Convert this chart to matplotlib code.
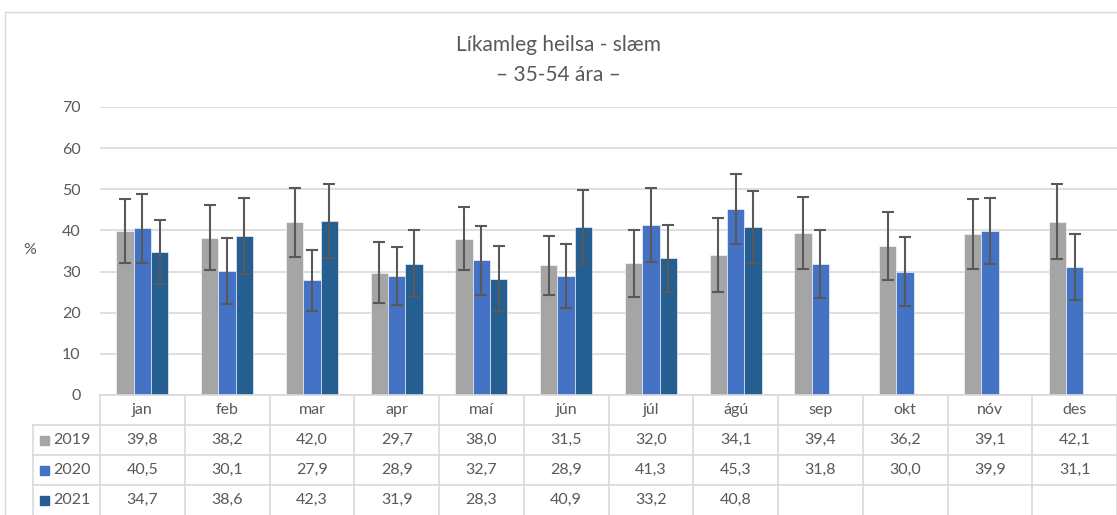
import matplotlib
matplotlib.use("Agg")
import matplotlib.pyplot as plt
from matplotlib.lines import Line2D
from matplotlib.patches import Rectangle
import matplotlib.transforms as mtransforms
import numpy as np

plt.rcParams['font.family'] = ['Lato', 'DejaVu Sans']

months = ["jan", "feb", "mar", "apr", "maí", "jún", "júl", "ágú", "sep", "okt", "nóv", "des"]
years = ["2019", "2020", "2021"]
v2019 = [39.8, 38.2, 42.0, 29.7, 38.0, 31.5, 32.0, 34.1, 39.4, 36.2, 39.1, 42.1]
v2020 = [40.5, 30.1, 27.9, 28.9, 32.7, 28.9, 41.3, 45.3, 31.8, 30.0, 39.9, 31.1]
v2021 = [34.7, 38.6, 42.3, 31.9, 28.3, 40.9, 33.2, 40.8]
e2019 = [7.8, 7.9, 8.4, 7.4, 7.6, 7.2, 8.1, 9.0, 8.8, 8.3, 8.5, 9.1]
e2020 = [8.4, 8.1, 7.4, 7.0, 8.3, 7.8, 9.0, 8.5, 8.2, 8.3, 8.1, 8.0]
e2021 = [7.8, 9.2, 8.9, 8.2, 8.0, 9.0, 8.2, 8.7]

colors = ["#A5A5A5", "#4472C4", "#255E91"]
txt = "#595959"
gridc = "#D9D9D9"

W, H = 1117, 515
fig = plt.figure(figsize=(W / 100, H / 100), dpi=100)

def fx(x):
    return x / W

def fy(y):
    return 1 - y / H

# outer chart border
fig.add_artist(Line2D([fx(5), fx(5)], [fy(12), fy(515)], color=gridc, lw=1, transform=fig.transFigure))
fig.add_artist(Line2D([fx(5), fx(1117)], [fy(12), fy(12)], color=gridc, lw=1, transform=fig.transFigure))

ax_l, ax_r, ax_t, ax_b = 100, 1117, 107, 395
ax = fig.add_axes([fx(ax_l), fy(ax_b), fx(ax_r - ax_l), (ax_b - ax_t) / H])

x = np.arange(len(months))
bw = 0.205
series = [(v2019, e2019), (v2020, e2020), (v2021, e2021)]
for i, (vals, errs) in enumerate(series):
    xs = x[:len(vals)] + (i - 1) * bw
    ax.bar(xs, vals, width=bw, color=colors[i], edgecolor="white", linewidth=0.4, zorder=2)
    ax.errorbar(xs, vals, yerr=errs, fmt="none", ecolor="#595959", elinewidth=1.5,
                capsize=4, capthick=1.5, zorder=3)

ax.set_xlim(-0.5, len(months) - 0.5)
ax.set_ylim(0, 70)
ax.set_yticks(range(0, 71, 10))
ax.yaxis.grid(True, color=gridc, lw=1.2, zorder=0)
ax.set_axisbelow(True)
for s in ax.spines.values():
    s.set_visible(False)
ax.tick_params(axis="y", length=0, pad=14, labelsize=11.5, labelcolor=txt)
ax.set_xticks([])

fig.text(fx(30), fy(250), "%", ha="center", va="center", fontsize=11.5, color=txt)
fig.text(0.5, fy(45), "Líkamleg heilsa - slæm", ha="center", va="center", fontsize=15, color=txt)
fig.text(0.5, fy(75), "– 35-54 ára –", ha="center", va="center", fontsize=15, color=txt)

# data table below the axes
trans = mtransforms.blended_transform_factory(ax.transData, fig.transFigure)
row_y = [395, 425, 455, 485, 515]
fig.add_artist(Line2D([fx(100), fx(1117)], [fy(395), fy(395)], color=gridc, lw=1.2, transform=fig.transFigure))
for yy in row_y[1:4]:
    fig.add_artist(Line2D([fx(33), fx(1117)], [fy(yy), fy(yy)], color=gridc, lw=1.2, transform=fig.transFigure))
fig.add_artist(Line2D([fx(33), fx(33)], [fy(425), fy(515)], color=gridc, lw=1.2, transform=fig.transFigure))
for k in range(len(months) + 1):
    fig.add_artist(Line2D([k - 0.5, k - 0.5], [fy(395), fy(515)], color=gridc, lw=1.2, transform=trans))

for k, m in enumerate(months):
    fig.text(k, fy(410), m, transform=trans, ha="center", va="center", fontsize=11.5, color=txt)

allvals = [v2019, v2020, v2021]
for r, (yr, vals) in enumerate(zip(years, allvals)):
    yc = (row_y[r + 1] + row_y[r + 2]) / 2
    fig.add_artist(Rectangle((fx(40), fy(yc + 4.5)), 9 / W, 9 / H, color=colors[r], transform=fig.transFigure))
    fig.text(fx(53), fy(yc), yr, ha="left", va="center", fontsize=11.5, color=txt)
    for k, v in enumerate(vals):
        fig.text(k, fy(yc), f"{v:.1f}".replace(".", ","), transform=trans,
                 ha="center", va="center", fontsize=11.5, color=txt)

fig.savefig("out.png", dpi=100)
